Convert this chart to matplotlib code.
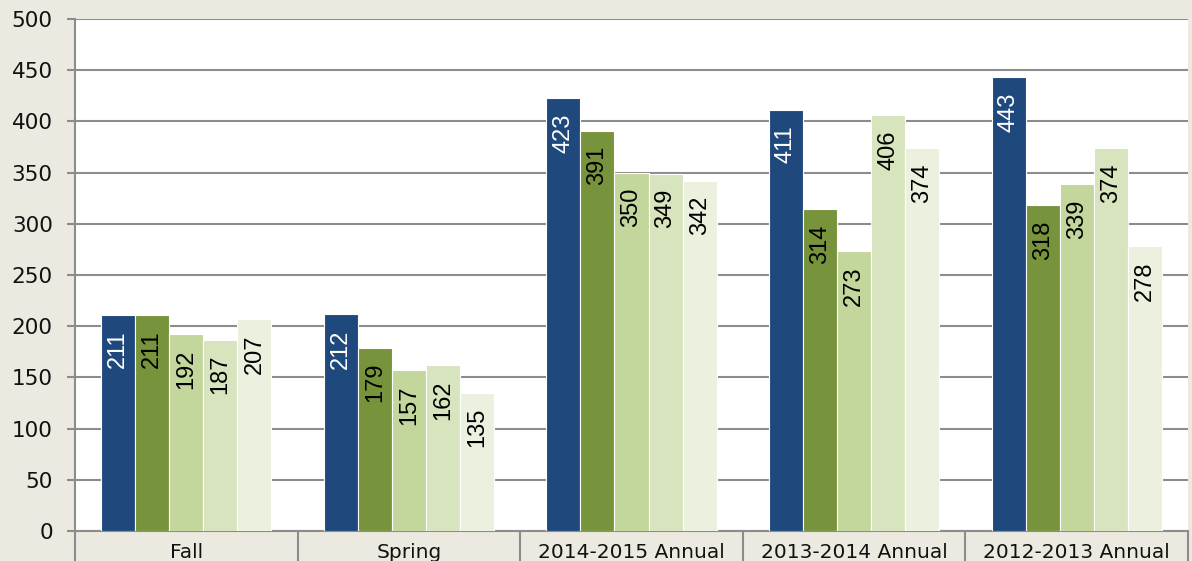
import matplotlib.pyplot as plt
import numpy as np

categories = ["Fall", "Spring", "2014-2015 Annual", "2013-2014 Annual", "2012-2013 Annual"]
series_a = [211, 212, 423, 411, 443]
series_b = [211, 179, 391, 314, 318]
series_c = [192, 157, 350, 273, 339]
series_d = [187, 162, 349, 406, 374]
series_e = [207, 135, 342, 374, 278]

all_series = [series_a, series_b, series_c, series_d, series_e]
colors = ["#1F497D", "#77933C", "#C3D69B", "#D7E4BD", "#EBF1DE"]
label_colors = ["white", "black", "black", "black", "black"]

bg = "#ECE9E0"
grid_col = "#8C8C8C"

fig = plt.figure(figsize=(11.92, 5.61), dpi=100, facecolor=bg)
ax = fig.add_axes([75 / 1192, 30 / 561, 1113 / 1192, 512 / 561])
ax.set_facecolor("white")

x = np.arange(len(categories))
bw = 0.153
for i, vals in enumerate(all_series):
    pos = x + (i - 2) * bw
    bars = ax.bar(pos, vals, width=bw, color=colors[i], edgecolor="white", linewidth=0.8, zorder=3)
    for b, v in zip(bars, vals):
        ax.annotate(str(v), (b.get_x() + b.get_width() / 2, v), xytext=(0, -11),
                    textcoords="offset points", rotation=90, ha="center", va="top",
                    fontsize=17, color=label_colors[i], family="Liberation Sans", zorder=4)

ax.set_xlim(-0.5, len(categories) - 0.5)
ax.set_ylim(0, 500)
ax.set_yticks(np.arange(0, 501, 50))
ax.yaxis.grid(True, color=grid_col, linewidth=1.5, zorder=1)
ax.set_axisbelow(True)

for s in ["top", "right"]:
    ax.spines[s].set_visible(False)
for s in ["left", "bottom"]:
    ax.spines[s].set_color(grid_col)
    ax.spines[s].set_linewidth(1.5)

ax.tick_params(axis="y", length=6, width=1.5, color=grid_col, labelsize=15.5, pad=10, labelcolor="#111111")
# category labels sit between the separator ticks
ax.set_xticks(x)
ax.set_xticklabels(categories)
ax.tick_params(axis="x", which="major", length=0, labelsize=14.5, pad=9, labelcolor="#111111")
ax.set_xticks(np.arange(-0.5, len(categories)), minor=True)
ax.tick_params(axis="x", which="minor", length=24, width=1.5, color=grid_col)

fig.savefig("out.png", dpi=100, facecolor=bg)
